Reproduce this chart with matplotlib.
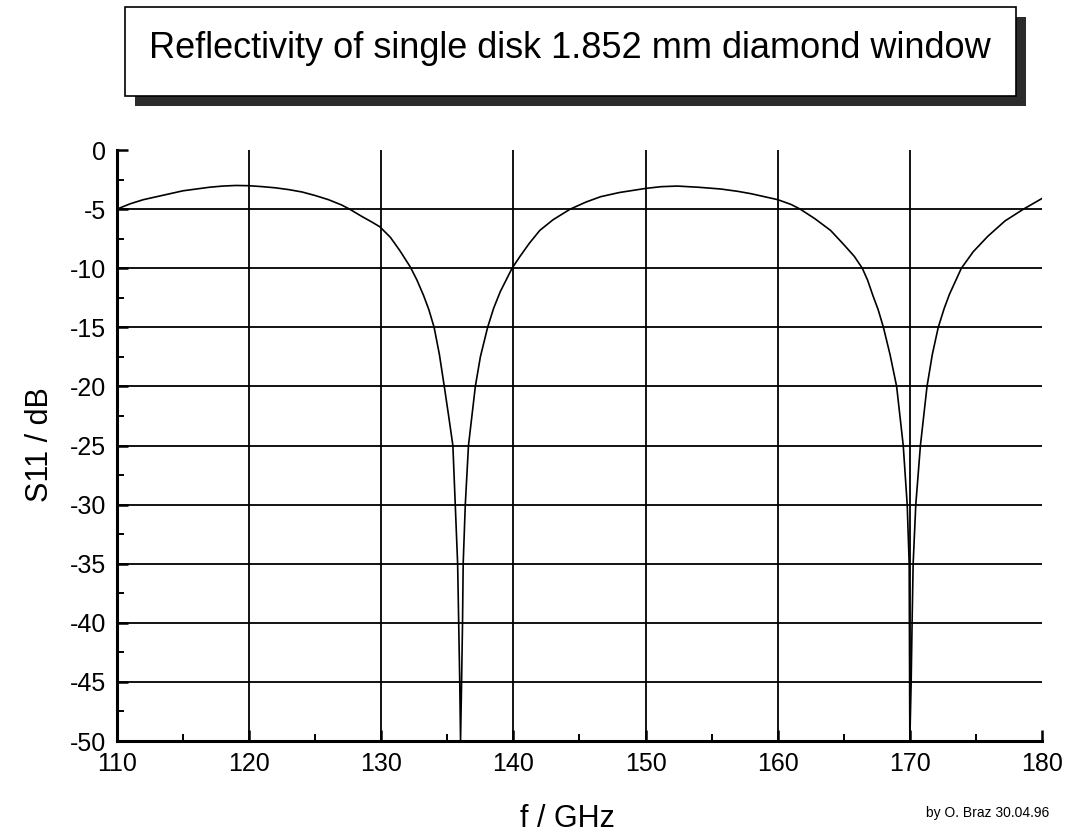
import numpy as np
import matplotlib.pyplot as plt
from matplotlib.patches import Rectangle

# frequency / GHz and reflection S11 / dB
freq = [110.0, 111.0, 112.0, 113.0, 114.0, 115.0, 116.0, 117.0, 118.0, 119.0,
        120.0, 121.0, 122.0, 123.0, 124.0, 125.0, 126.0, 127.0, 127.6, 128.5,
        129.3, 129.9, 130.7, 131.4, 132.2, 132.7, 133.2, 133.6, 134.0, 134.4,
        134.77, 135.1, 135.42, 135.6, 135.78, 135.86, 135.94, 136.0, 136.08, 136.15,
        136.2, 136.36, 136.6, 137.12, 137.5, 138.05, 138.5, 139.0, 139.9, 140.5,
        141.2, 142.0, 143.0, 144.3, 145.5, 146.6, 148.0, 150.0, 151.2, 152.4,
        154.0, 155.7, 157.0, 158.0, 159.0, 160.0, 161.0, 161.7, 162.8, 164.0,
        165.0, 165.8, 166.4, 166.8, 167.2, 167.6, 168.0, 168.5, 169.0, 169.5,
        169.8, 169.95, 170.0, 170.1, 170.17, 170.25, 170.45, 170.8, 171.3, 171.7,
        172.15, 172.6, 173.0, 173.9, 174.8, 175.9, 177.2, 178.6, 180.0]
s11 = [-5.0, -4.55, -4.2, -3.95, -3.7, -3.45, -3.3, -3.15, -3.05, -3.0,
       -3.02, -3.1, -3.2, -3.35, -3.55, -3.85, -4.2, -4.65, -5.0, -5.6,
       -6.1, -6.5, -7.4, -8.5, -9.9, -11.0, -12.3, -13.5, -15.0, -17.3,
       -20.0, -22.5, -25.0, -30.0, -35.0, -40.0, -45.0, -50.0, -45.0, -40.0,
       -35.0, -30.0, -25.0, -20.0, -17.5, -15.0, -13.4, -12.0, -10.0, -9.0,
       -7.9, -6.8, -5.9, -5.0, -4.4, -3.95, -3.6, -3.25, -3.1, -3.05,
       -3.15, -3.3, -3.5, -3.7, -3.95, -4.2, -4.6, -5.0, -5.8, -6.8,
       -8.0, -9.0, -10.0, -11.0, -12.3, -13.5, -15.0, -17.3, -20.0, -25.0,
       -30.0, -35.0, -50.0, -45.0, -40.0, -35.0, -30.0, -25.0, -20.0, -17.3,
       -15.0, -13.4, -12.2, -10.0, -8.6, -7.3, -6.0, -5.0, -4.1]

x_ticks = [110, 120, 130, 140, 150, 160, 170, 180]
y_ticks = [0, -5, -10, -15, -20, -25, -30, -35, -40, -45, -50]

plt.rcParams['font.family'] = ['Liberation Sans', 'DejaVu Sans']
plt.rcParams['axes.unicode_minus'] = False

fig = plt.figure(figsize=(10.73, 8.39), dpi=100)
ax = fig.add_axes([0.1090, 0.1168, 0.8621, 0.7044])

# grid only on the inner values
for xv in x_ticks[1:-1]:
    ax.axvline(xv, color='black', lw=1.3, zorder=1)
for yv in y_ticks[1:-1]:
    ax.axhline(yv, color='black', lw=1.3, zorder=1)

ax.plot(freq, s11, color='black', lw=1.2, zorder=2)

ax.set_xlim(110, 180)
ax.set_ylim(-50, 0)
ax.set_xticks(x_ticks)
ax.set_yticks(y_ticks)
ax.set_xticks(np.arange(115, 180, 10), minor=True)
ax.set_yticks(np.arange(-47.5, 0, 5), minor=True)
ax.tick_params(which='major', direction='in', length=8, width=1.8,
               labelsize=18, color='black')
ax.tick_params(which='minor', direction='in', length=5, width=1.4)
ax.tick_params(axis='y', pad=8)
ax.tick_params(axis='x', pad=8)

for side in ['top', 'right']:
    ax.spines[side].set_visible(False)
for side in ['left', 'bottom']:
    ax.spines[side].set_linewidth(2.2)

fig.text(0.0373, 0.4696, 'S11 / dB', rotation=90, ha='center', va='center',
         fontsize=22)
fig.text(0.529, 0.0238, 'f / GHz', ha='center', va='center', fontsize=22)
fig.text(0.978, 0.031, 'by O. Braz 30.04.96', ha='right', va='center',
         fontsize=10)

# title box with drop shadow
fig.patches.append(Rectangle((0.1258, 0.8737), 0.8304, 0.1061,
                             transform=fig.transFigure, facecolor='#2b2b2b',
                             edgecolor='none', zorder=0))
fig.patches.append(Rectangle((0.1165, 0.8856), 0.8304, 0.1061,
                             transform=fig.transFigure, facecolor='white',
                             edgecolor='black', lw=1.2, zorder=1))
fig.text(0.531, 0.9309, 'Reflectivity of single disk 1.852 mm diamond window',
         ha='center', va='baseline', fontsize=26)

fig.savefig('out.png', dpi=100)
